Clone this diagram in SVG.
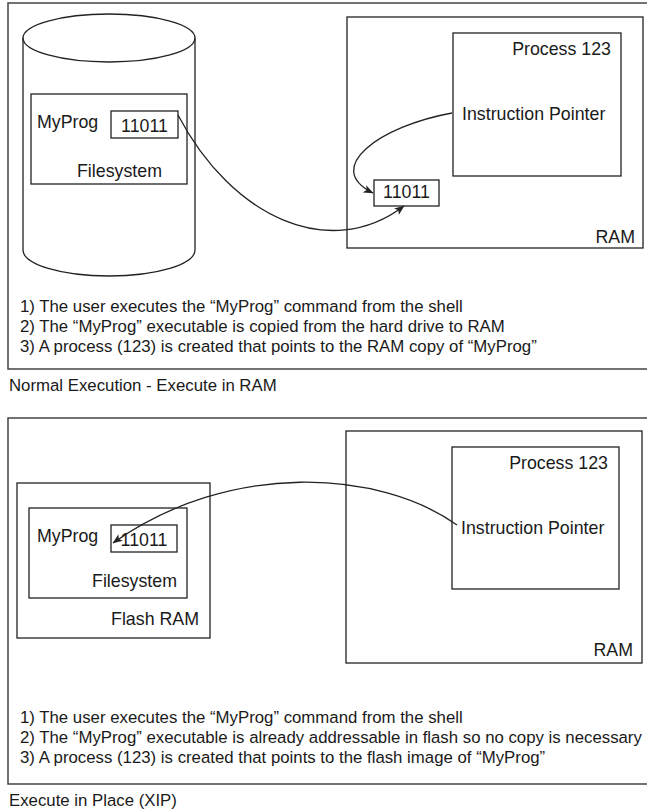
<svg xmlns="http://www.w3.org/2000/svg" width="647" height="811" viewBox="0 0 647 811">
<defs>
<style>
.ln{fill:none;stroke:#222;stroke-width:1.3}
.bx{fill:#fff;stroke:#222;stroke-width:1.3}
.fr{fill:none;stroke:#444;stroke-width:1.5}
.lb{font-family:"Liberation Sans",Arial,Helvetica,sans-serif;font-size:17.8px;fill:#1a1a1a}
.tx{font-family:"Liberation Sans",Arial,Helvetica,sans-serif;font-size:16.8px;fill:#1a1a1a}
.r{text-anchor:end}
.m{text-anchor:middle}
</style>
<marker id="ah" viewBox="0 0 10 8" refX="9.5" refY="4" markerWidth="10" markerHeight="8" markerUnits="userSpaceOnUse" orient="auto">
<path d="M0,0 L10,4 L0,8 L2.5,4 z" fill="#222"/>
</marker>
</defs>
<rect width="647" height="811" fill="#fff"/>

<g id="frame-normal">
<path class="fr" d="M660,3 H8 V369 H660"/>
</g>
<g id="disk">
<path class="ln" d="M23,38 V250 A86,26 0 0 0 195,250 V38"/>
<ellipse class="ln" cx="109" cy="38" rx="86" ry="24"/>
</g>
<g id="filesystem-top">
<rect class="bx" x="31" y="94" width="156" height="90"/>
<text class="lb" x="37" y="128">MyProg</text>
<text class="lb" x="77" y="177">Filesystem</text>
</g>
<g id="prog-top">
<rect class="bx" x="111" y="111" width="67" height="27"/>
<text class="lb m" x="144.5" y="132">11011</text>
</g>
<g id="ram-top">
<rect class="bx" x="347" y="17" width="296" height="231"/>
<text class="lb r" x="635" y="243">RAM</text>
</g>
<g id="process-top">
<rect class="bx" x="453" y="33" width="168" height="143"/>
<text class="lb r" x="611" y="55">Process 123</text>
<text class="lb" x="462" y="120">Instruction Pointer</text>
</g>
<g id="copy-top">
<rect class="bx" x="374" y="180" width="65" height="26"/>
<text class="lb m" x="406.5" y="198">11011</text>
</g>
<g id="notes-top">
<text class="tx" x="20" y="312">1) The user executes the “MyProg” command from the shell</text>
<text class="tx" x="20" y="332">2) The “MyProg” executable is copied from the hard drive to RAM</text>
<text class="tx" x="20" y="352">3) A process (123) is created that points to the RAM copy of “MyProg”</text>
</g>
<text class="tx" x="9" y="391">Normal Execution - Execute in RAM</text>

<g id="frame-xip">
<path class="fr" d="M660,418 H8 V784 H660"/>
</g>
<g id="flash">
<rect class="bx" x="17" y="483" width="193" height="155"/>
<text class="lb r" x="199" y="625">Flash RAM</text>
</g>
<g id="filesystem-xip">
<rect class="bx" x="29" y="508" width="158" height="90"/>
<text class="lb" x="37" y="542">MyProg</text>
<text class="lb r" x="177" y="587">Filesystem</text>
</g>
<g id="prog-xip">
<rect class="bx" x="111" y="525" width="66" height="27"/>
<text class="lb m" x="144" y="546">11011</text>
</g>
<g id="ram-xip">
<rect class="bx" x="346" y="431" width="296" height="232"/>
<text class="lb r" x="633" y="656">RAM</text>
</g>
<g id="process-xip">
<rect class="bx" x="452" y="447" width="167" height="142"/>
<text class="lb r" x="608" y="469">Process 123</text>
<text class="lb" x="461" y="534">Instruction Pointer</text>
</g>
<g id="notes-xip">
<text class="tx" x="20" y="723">1) The user executes the “MyProg” command from the shell</text>
<text class="tx" x="20" y="743">2) The “MyProg” executable is already addressable in flash so no copy is necessary</text>
<text class="tx" x="20" y="763">3) A process (123) is created that points to the flash image of “MyProg”</text>
</g>
<text class="tx" x="9" y="806">Execute in Place (XIP)</text>

<g id="connectors">
<path class="ln" marker-end="url(#ah)" d="M178,115 C232,218 330,262 404,206"/>
<path class="ln" marker-end="url(#ah)" d="M452,113 C380,126 322,168 373,193"/>
<path class="ln" marker-end="url(#ah)" d="M457,525 C380,470 230,460 113,543"/>
</g>
</svg>
